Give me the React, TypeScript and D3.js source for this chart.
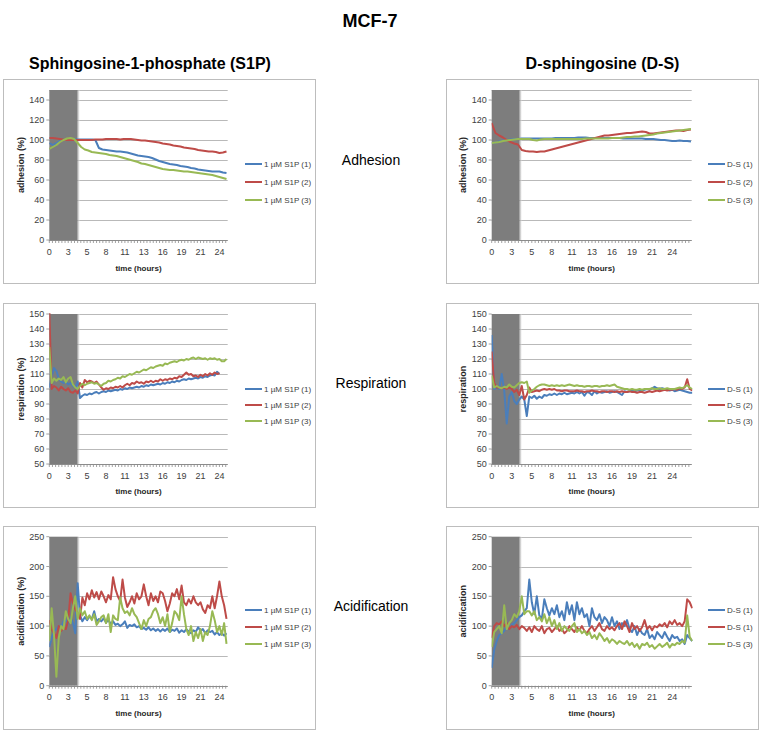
import React from 'react';
import * as d3 from 'd3';

// ---------- data (hours are index * step) ----------
const STEP_ADH = 0.5;
const STEP = 1 / 3;

const s1pAdh1 = [97, 95, 97, 99, 100.5, 101, 101, 101, 100.5, 100.5,
  100.5, 100.5, 100.5, 100, 92, 90.5, 90, 89.5, 89, 88.5,
  88.5, 88, 87.5, 86.5, 85.5, 84.5, 84, 83.5, 83, 82,
  80.5, 79, 78, 77, 76, 75.5, 75, 74, 73.5, 73,
  72, 71.5, 70.5, 70, 69.5, 69, 68.5, 68.5, 68.5, 67.5, 67];
const s1pAdh2 = [102, 102, 101.5, 101, 100.5, 100, 100, 100, 100, 100,
  100, 100, 100, 100.5, 100.5, 100.5, 101, 101, 101, 101,
  100.5, 101, 101, 101, 100.5, 100, 99.5, 99.5, 99, 98.5,
  98, 97.5, 96.5, 96, 95.5, 94.5, 94, 93.5, 92.5, 92,
  91.5, 91, 90, 89.5, 89, 88.5, 88.5, 88, 87, 87.5, 88.5];
const s1pAdh3 = [91, 93, 95, 98, 100, 101.5, 102, 101, 97, 93,
  90.5, 89.5, 88, 87.5, 87, 86.5, 86, 85, 84.5, 84,
  83, 82, 81, 80, 79, 78, 76.5, 76, 75, 74,
  73, 72, 71, 70.5, 70, 70, 69.5, 69, 68.5, 68.5,
  68, 67.5, 67, 66.5, 66, 65.5, 65, 64, 63, 62, 61];

const dsAdh1 = [97, 97.5, 98.5, 99.5, 100, 100.5, 101, 101, 101.5, 101.5,
  101.5, 101.5, 101.5, 101.5, 101.5, 101.5, 101.5, 102, 102, 102,
  102, 102, 102, 102.5, 102.5, 102.5, 102, 102, 102, 102,
  102, 102, 102, 102, 102, 101.5, 101.5, 101.5, 101.5, 101.5,
  101.5, 101, 101, 101, 100.5, 100, 100, 99.5, 99, 99,
  99.5, 99, 99, 98.5];
const dsAdh2 = [117, 107, 104.5, 102.5, 100, 98, 96.5, 95.5, 90, 89,
  88.5, 88.5, 88, 88.5, 88.5, 89.5, 90.5, 91.5, 92.5, 93.5,
  94.5, 95.5, 96.5, 97.5, 98.5, 99.5, 100.5, 101.5, 102.5, 103.5,
  104.5, 104.5, 105, 105.5, 106, 106.5, 107, 107, 107.5, 108,
  108.5, 108, 106.5, 106.5, 107, 107.5, 108, 108.5, 109, 109.5,
  109.5, 109, 110, 110.5];
const dsAdh3 = [97, 97.5, 98, 99, 99.5, 100, 100.5, 101, 101, 101,
  101, 100, 99.5, 100.5, 101, 101, 101, 101, 101, 101,
  101, 101, 101, 101, 101, 101.5, 101.5, 101.5, 101.5, 101.5,
  101.5, 101.5, 102, 102, 102, 102.5, 103, 103, 103.5, 103.5,
  104, 104.5, 105, 105.5, 106.5, 107, 107.5, 108, 108.5, 109,
  109.5, 110, 110.5, 111];

const s1pResp1 = [101, 108, 114, 112, 107, 105, 104, 105, 103, 104, 102, 101,
  105, 94, 95.5, 96.5, 96, 97, 96.5, 97.5, 98, 97, 98, 98.5,
  98, 99, 98.5, 99, 99.5, 99, 100, 99.5, 100.5, 100, 101, 100.5,
  101, 101.5, 101, 102, 101.5, 102.5, 102, 103, 102.5, 103, 103.5, 103,
  104, 103.5, 104.5, 104, 105, 104.5, 105.5, 105, 106, 106.5, 106, 107,
  106.5, 107, 107.5, 107, 108, 107.5, 108.5, 108, 109, 109.5, 109, 111.5, 110];
const s1pResp2 = [152, 100, 102, 101, 99, 101.5, 100, 99, 100.5, 98, 97.5, 99,
  97, 104, 101, 106, 104.5, 105.5, 105, 104, 105, 103, 101, 99.5,
  100.5, 100, 101, 100.5, 101.5, 101, 102, 101, 102.5, 103.5, 102.5, 104,
  103.5, 105, 104, 104.5, 103.5, 105, 104.5, 105.5, 104.5, 105.5, 105, 106.5,
  105.5, 106.5, 106, 107, 106.5, 107.5, 107, 108.5, 108, 109.5, 111, 109.5,
  110, 108.5, 109, 108, 109.5, 108.5, 110, 109, 110.5, 109.5, 111, 110, 110.5];
const s1pResp3 = [128, 104, 107, 105.5, 107, 106, 108, 104.5, 107, 108, 103, 101,
  100, 102, 103.5, 102.5, 103.5, 104, 104.5, 103.5, 104, 103, 102, 103.5,
  104, 105.5, 105, 106, 106.5, 107.5, 107, 108.5, 108, 109, 110, 109.5,
  110.5, 111.5, 111, 112, 113, 112.5, 113.5, 114.5, 114, 115, 115.5, 116,
  115.5, 117, 116.5, 117.5, 118, 118.5, 118, 119, 119.5, 119, 120, 119.5,
  120.5, 121, 120, 121, 120.5, 120, 120.5, 119.5, 120.5, 120, 120.5, 119.5,
  120, 118.5, 118.5, 120];

const dsResp1 = [136, 100, 101, 100, 110, 99, 77, 95, 98, 92, 90, 93,
  95, 93, 82, 95, 94, 95.5, 93.5, 95, 94, 96, 95.5, 96.5,
  96, 97, 96, 97, 96.5, 97.5, 96.5, 97, 97.5, 97, 98, 97,
  98, 95.5, 98, 97.5, 96, 98.5, 97, 98, 97.5, 98, 98.5, 97.5,
  98, 98.5, 98, 97, 96, 98.5, 98, 98.5, 99, 98.5, 99, 99.5,
  99, 99.5, 100, 99.5, 100.5, 101.5, 100.5, 100, 100.5, 100, 99.5, 99,
  99.5, 98.5, 99, 99.5, 99, 98.5, 98, 97.5, 97.5];
const dsResp2 = [125, 104, 101, 101, 100.5, 101, 100, 101, 100, 98, 99.5, 96,
  102, 93, 96, 101, 98, 98.5, 99, 98.5, 99.5, 100, 99.5, 100,
  99.5, 100, 99, 99, 98.5, 99, 99, 98.5, 98.5, 98.5, 99, 98.5,
  98.5, 98, 98.5, 98.5, 99, 98.5, 98.5, 98, 98.5, 98.5, 98, 98.5,
  98.5, 98, 98.5, 98, 98.5, 98, 98, 98.5, 98, 98, 97.5, 98,
  98, 97.5, 98, 98.5, 98, 98.5, 99, 98.5, 99, 99.5, 99, 99.5,
  99.5, 100, 99.5, 100.5, 100, 101, 106.5, 100, 99];
const dsResp3 = [109, 101, 102, 101, 100.5, 101.5, 101, 103, 101.5, 101, 102.5, 104,
  104.5, 104, 105, 97.5, 99, 100, 101.5, 102.5, 103, 103, 102.5, 102,
  102.5, 102, 102.5, 102, 102.5, 102, 102.5, 103, 102.5, 102, 102.5, 102,
  102, 101.5, 102, 102, 101.5, 102, 102, 101.5, 102, 102, 102.5, 102,
  102.5, 103, 101.5, 101, 100.5, 100, 100, 99.5, 100, 99.5, 99.5, 100,
  99.5, 100, 100, 100, 100.5, 100, 100, 100.5, 100, 100, 100.5, 100,
  100, 100, 100.5, 101, 100.5, 101.5, 102.5, 101, 100];

const s1pAcid1 = [65, 80, 92, 95, 100, 98, 108, 110, 105, 115, 105, 88,
  172, 118, 108, 115, 110, 116, 112, 125, 108, 112, 108, 113,
  106, 110, 104, 108, 102, 104, 100, 103, 108, 97, 102, 100,
  103, 98, 100, 95, 97, 94, 98, 93, 96, 92, 95, 91,
  95, 92, 96, 90, 94, 92, 96, 89, 93, 90, 95, 91,
  88, 93, 90, 98, 92, 95, 88, 93, 90, 92, 86, 90,
  85, 88, 84, 88];
const s1pAcid2 = [110, 95, 88, 80, 100, 92, 97, 95, 110, 155, 138, 128,
  122, 112, 148, 135, 155, 145, 160, 148, 157, 145, 158, 150,
  140, 152, 145, 182, 162, 150, 142, 178, 148, 132, 140, 150,
  138, 155, 145, 150, 170, 150, 135, 155, 142, 150, 140, 158,
  155, 142, 125, 138, 155, 150, 162, 145, 168, 140, 135, 145,
  138, 150, 140, 135, 140, 128, 122, 135, 130, 150, 130, 150,
  175, 150, 135, 112];
const s1pAcid3 = [75, 130, 85, 15, 80, 100, 95, 125, 112, 105, 130, 150,
  112, 130, 118, 125, 112, 118, 110, 120, 102, 108, 115, 118,
  105, 120, 90, 118, 112, 110, 148, 130, 122, 125, 118, 130,
  120, 115, 105, 95, 110, 100, 112, 115, 125, 130, 120, 105,
  115, 100, 120, 90, 105, 125, 120, 110, 150, 120, 95, 85,
  100, 75, 90, 80, 95, 75, 90, 85, 100, 125, 110, 90,
  100, 85, 105, 70];

const dsAcid1 = [30, 60, 75, 85, 88, 92, 100, 95, 102, 105, 110, 115,
  118, 125, 130, 178, 140, 120, 150, 118, 112, 145, 130, 118,
  130, 120, 135, 115, 125, 110, 140, 120, 135, 110, 140, 120,
  130, 115, 120, 100, 130, 115, 110, 120, 105, 115, 110, 100,
  115, 100, 108, 95, 105, 100, 110, 95, 90, 100, 85, 95,
  88, 85, 95, 80, 85, 78, 90, 85, 80, 90, 82, 75,
  85, 80, 82, 75, 78, 70, 85, 80, 75];
const dsAcid2 = [80, 100, 105, 103, 108, 100, 105, 95, 100, 98, 102, 95,
  100, 97, 92, 98, 90, 100, 95, 92, 100, 88, 95, 97,
  90, 95, 100, 92, 95, 88, 92, 100, 95, 90, 98, 93,
  100, 92, 88, 95, 100, 92, 98, 105, 95, 92, 100, 95,
  98, 93, 100, 105, 95, 108, 100, 90, 105, 95, 100, 92,
  98, 110, 95, 100, 93, 100, 98, 103, 100, 105, 98, 108,
  103, 110, 102, 105, 100, 108, 145, 140, 130];
const dsAcid3 = [65, 90, 95, 100, 88, 135, 95, 105, 110, 120, 115, 125,
  150, 120, 125, 125, 118, 125, 110, 115, 108, 120, 105, 115,
  100, 110, 95, 105, 92, 100, 95, 92, 100, 105, 90, 95,
  88, 92, 85, 90, 80, 85, 78, 88, 82, 75, 80, 72,
  78, 75, 70, 75, 72, 70, 75, 68, 72, 65, 70, 62,
  70, 68, 72, 65, 68, 62, 66, 70, 65, 68, 72, 64,
  70, 68, 72, 70, 75, 72, 118, 82, 75];

const s1pLabels = ['1 \u00b5M S1P (1)', '1 \u00b5M S1P (2)', '1 \u00b5M S1P (3)'];
const dsLabels = ['D-S (1)', 'D-S (2)', 'D-S (3)'];
const dsAcidLabels = ['D-S (1)', 'D-S (1)', 'D-S (3)'];

const xTickLabels = ['0', '3', '5', '8', '11', '13', '16', '19', '21', '24'];
const adhYTicks = [0, 20, 40, 60, 80, 100, 120, 140];
const respYTicks = [50, 60, 70, 80, 90, 100, 110, 120, 130, 140, 150];
const acidYTicks = [0, 50, 100, 150, 200, 250];

// ---------- layout ----------
const COLORS = ['#4a7ebb', '#be4b48', '#98b954'];
const FONT = 'Liberation Sans, Arial, sans-serif';
const LABEL_SPACING = 8 / 3; // hours between x labels
const MINOR = LABEL_SPACING / 6;

const COLS = [
  { boxX0: 3, boxX1: 315, px0: 49.3, px1: 227.7, tmax: 25.17, shade: 3.95, legX: 245, yTitleX: 20.7 },
  { boxX0: 446, boxX1: 758, px0: 491.7, px1: 691.7, tmax: 26.6, shade: 3.68, legX: 708, yTitleX: 463 },
];
const ROWS = [
  { boxY0: 79, boxY1: 283, py0: 90, py1: 240, dom: [0, 150], ticks: adhYTicks, legY: [164, 182, 200], xlY: 255, xtY: 271 },
  { boxY0: 303, boxY1: 507, py0: 314, py1: 464, dom: [50, 150], ticks: respYTicks, legY: [389, 405, 421], xlY: 479, xtY: 494 },
  { boxY0: 526, boxY1: 729, py0: 536.7, py1: 685.7, dom: [0, 250], ticks: acidYTicks, legY: [610, 627, 644], xlY: 700, xtY: 716 },
];

type PanelProps = {
  id: string; col: any; row: any; series: number[][]; step: number; labels: string[]; yTitle: string;
};

function Panel({ id, col, row, series, step, labels, yTitle }: PanelProps) {
  const x = d3.scaleLinear().domain([0, col.tmax]).range([col.px0, col.px1]);
  const y = d3.scaleLinear().domain(row.dom).range([row.py1, row.py0]);
  const line = d3.line<number>().x((_, i) => x(i * step)).y((v) => y(v));
  const minorTicks = d3.range(0, col.tmax + 1e-6, MINOR);
  const shadeX1 = x(col.shade);
  return (
    <g>
      <rect x={col.boxX0 + 0.5} y={row.boxY0 + 0.5} width={col.boxX1 - col.boxX0} height={row.boxY1 - row.boxY0}
        fill="#fff" stroke="#bdbdbd" strokeWidth={1} />
      <clipPath id={`clip-${id}`}>
        <rect x={col.px0} y={row.py0 - 1} width={col.px1 - col.px0 + 1} height={row.py1 - row.py0 + 1} />
      </clipPath>
      {row.ticks.map((t: number) => (
        <line key={t} x1={col.px0} x2={col.px1} y1={Math.round(y(t)) + 0.5} y2={Math.round(y(t)) + 0.5}
          stroke="#b9b9b9" strokeWidth={1} />
      ))}
      <line x1={col.px0} x2={col.px1} y1={Math.round(row.py0) + 0.5} y2={Math.round(row.py0) + 0.5} stroke="#b9b9b9" />
      <rect x={col.px0} y={row.py0} width={shadeX1 - col.px0} height={row.py1 - row.py0} fill="#7d7d7d" />
      <rect x={shadeX1} y={row.py0} width={3} height={row.py1 - row.py0} fill="url(#shadeEdge)" />
      <line x1={col.px0} x2={col.px1} y1={Math.round(row.py1) + 0.5} y2={Math.round(row.py1) + 0.5} stroke="#8c8c8c" />
      {minorTicks.map((t, i) => (
        <line key={i} x1={x(t)} x2={x(t)} y1={row.py1} y2={row.py1 + 3} stroke="#8c8c8c" strokeWidth={0.8} />
      ))}
      {row.ticks.map((t: number) => (
        <g key={t}>
          <line x1={col.px0 - 3} x2={col.px0} y1={y(t)} y2={y(t)} stroke="#8c8c8c" strokeWidth={0.8} />
          <text x={col.px0 - 5} y={y(t)} dy="0.35em" textAnchor="end" fontSize={9} fill="#404040" fontFamily={FONT}>{t}</text>
        </g>
      ))}
      {xTickLabels.map((lab, k) => (
        <text key={k} x={x(k * LABEL_SPACING)} y={row.xlY} textAnchor="middle" fontSize={9} fill="#404040" fontFamily={FONT}>{lab}</text>
      ))}
      <text x={(col.px0 + col.px1) / 2} y={row.xtY} textAnchor="middle" fontSize={8} fontWeight="bold" fill="#262626" fontFamily={FONT}>time (hours)</text>
      <text transform={`translate(${col.yTitleX},${(row.py0 + row.py1) / 2}) rotate(-90)`} dy="0.35em" textAnchor="middle"
        fontSize={9} fontWeight="bold" fill="#262626" fontFamily={FONT}>{yTitle}</text>
      <g clipPath={`url(#clip-${id})`}>
        {series.map((s, i) => (
          <path key={i} d={line(s) || ''} fill="none" stroke={COLORS[i]} strokeWidth={2} strokeLinejoin="round" />
        ))}
      </g>
      {labels.map((lab, i) => (
        <g key={i}>
          <line x1={col.legX} x2={col.legX + 17} y1={row.legY[i]} y2={row.legY[i]} stroke={COLORS[i]} strokeWidth={2} />
          <text x={col.legX + 19} y={row.legY[i]} dy="0.35em" fontSize={8} fill="#404040" fontFamily={FONT}>{lab}</text>
        </g>
      ))}
    </g>
  );
}

export default function App() {
  return (
    <svg width={764} height={734} style={{ position: 'absolute', left: 0, top: 0, display: 'block', background: '#fff' }}>
      <defs>
        <linearGradient id="shadeEdge" x1="0" x2="1" y1="0" y2="0">
          <stop offset="0" stopColor="#8a8a8a" />
          <stop offset="1" stopColor="#ffffff" stopOpacity={0} />
        </linearGradient>
      </defs>
      <rect x={0} y={0} width={764} height={734} fill="#fff" />
      <text x={370} y={27} textAnchor="middle" fontSize={18} fontWeight="bold" fontFamily={FONT} fill="#000">MCF-7</text>
      <text x={150} y={69} textAnchor="middle" fontSize={16} fontWeight="bold" fontFamily={FONT} fill="#000">Sphingosine-1-phosphate (S1P)</text>
      <text x={602.5} y={69} textAnchor="middle" fontSize={16} fontWeight="bold" fontFamily={FONT} fill="#000">D-sphingosine (D-S)</text>

      <Panel id="a1" col={COLS[0]} row={ROWS[0]} series={[s1pAdh1, s1pAdh2, s1pAdh3]} step={STEP_ADH} labels={s1pLabels} yTitle="adhesion (%)" />
      <Panel id="a2" col={COLS[1]} row={ROWS[0]} series={[dsAdh1, dsAdh2, dsAdh3]} step={STEP_ADH} labels={dsLabels} yTitle="adhesion (%)" />
      <Panel id="r1" col={COLS[0]} row={ROWS[1]} series={[s1pResp1, s1pResp2, s1pResp3]} step={STEP} labels={s1pLabels} yTitle="respiration (%)" />
      <Panel id="r2" col={COLS[1]} row={ROWS[1]} series={[dsResp1, dsResp2, dsResp3]} step={STEP} labels={dsLabels} yTitle="respiration" />
      <Panel id="c1" col={COLS[0]} row={ROWS[2]} series={[s1pAcid1, s1pAcid2, s1pAcid3]} step={STEP} labels={s1pLabels} yTitle="acidification (%)" />
      <Panel id="c2" col={COLS[1]} row={ROWS[2]} series={[dsAcid1, dsAcid2, dsAcid3]} step={STEP} labels={dsAcidLabels} yTitle="acidification" />

      <text x={371} y={165} textAnchor="middle" fontSize={14} fontFamily={FONT} fill="#000">Adhesion</text>
      <text x={371} y={388} textAnchor="middle" fontSize={14} fontFamily={FONT} fill="#000">Respiration</text>
      <text x={371} y={611} textAnchor="middle" fontSize={14} fontFamily={FONT} fill="#000">Acidification</text>
    </svg>
  );
}
